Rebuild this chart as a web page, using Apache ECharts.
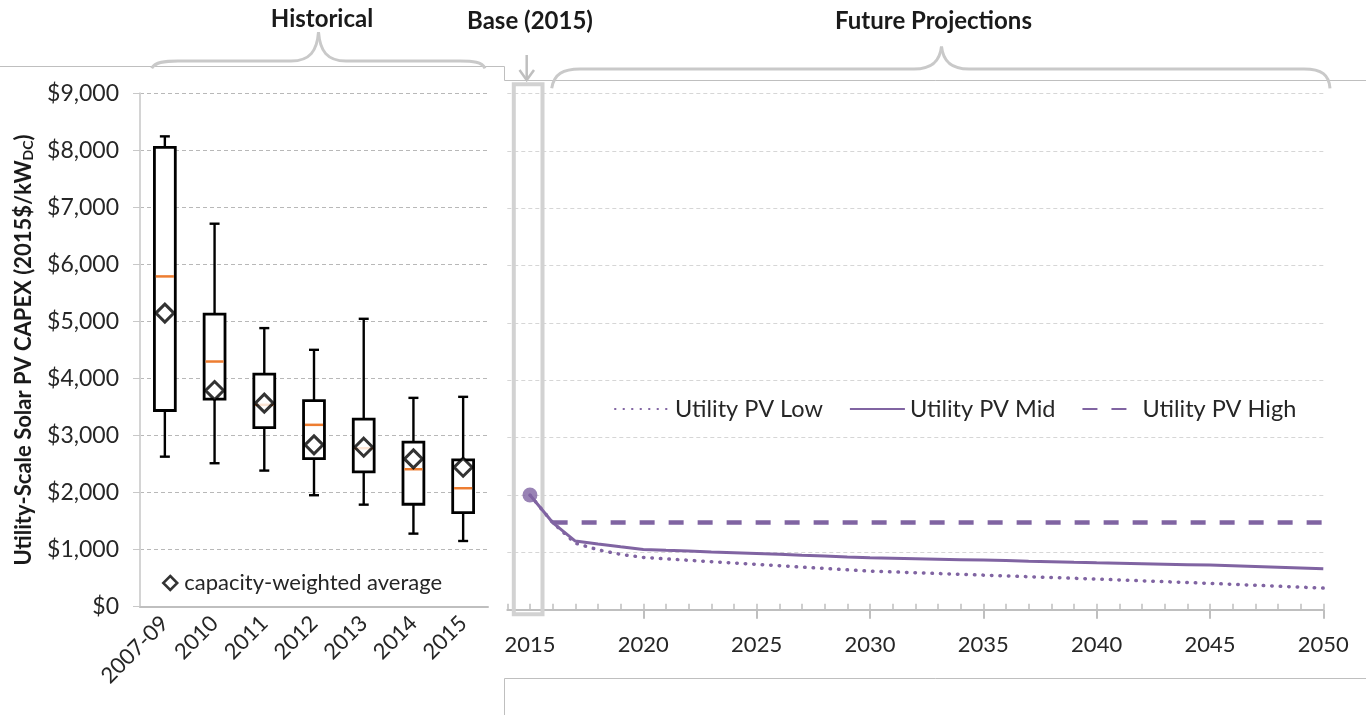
<!DOCTYPE html>
<html><head><meta charset="utf-8">
<script src="https://cdn.jsdelivr.net/npm/echarts@6/dist/echarts.min.js"></script>
<style>html,body{margin:0;padding:0;background:#fff}#c{width:1369px;height:715px}</style>
</head><body><div id="c"></div>
<script>
// ---------- data ----------
const boxCategories = ['2007-09', '2010', '2011', '2012', '2013', '2014', '2015'];
const boxMin    = [2630, 2515, 2386, 1954, 1789, 1281, 1152];
const boxQ1     = [3439, 3638, 3140, 2597, 2363, 1796, 1649];
const boxMedian = [5790, 4298, 3539, 3188, 2778, 2410, 2077];
const boxQ3     = [8053, 5130, 4077, 3614, 3287, 2884, 2573];
const boxMax    = [8245, 6714, 4884, 4503, 5047, 3661, 3679];
const weightedAvg = [5147, 3789, 3568, 2837, 2796, 2591, 2445];

const years = [2015, 2016, 2017, 2018, 2019, 2020, 2021, 2022, 2023, 2024,
               2025, 2026, 2027, 2028, 2029, 2030, 2031, 2032, 2033, 2034,
               2035, 2036, 2037, 2038, 2039, 2040, 2041, 2042, 2043, 2044,
               2045, 2046, 2047, 2048, 2049, 2050];
const pvLow  = [2000, 1520, 1160, 1045, 965, 912, 886, 862, 838, 814,
                790, 767, 743, 720, 696, 673, 659, 645, 631, 617,
                603, 589, 575, 562, 548, 534, 519, 504, 489, 474,
                459, 443, 426, 410, 393, 377];
const pvMid  = [2000, 1520, 1197, 1145, 1097, 1052, 1036, 1022, 1008, 995,
                982, 967, 951, 936, 920, 905, 897, 889, 881, 873,
                865, 856, 846, 837, 827, 818, 810, 802, 794, 786,
                778, 766, 754, 741, 727, 713];
const pvHigh = [null, 1520, 1520, 1520, 1520, 1520, 1520, 1520, 1520, 1520,
                1520, 1520, 1520, 1520, 1520, 1520, 1520, 1520, 1520, 1520,
                1520, 1520, 1520, 1520, 1520, 1520, 1520, 1520, 1520, 1520,
                1520, 1520, 1520, 1520, 1520, 1520];
const seriesNames = ['Utility PV Low', 'Utility PV Mid', 'Utility PV High'];
const avgName = 'capacity-weighted average';
const xLabelYears = [2015, 2020, 2025, 2030, 2035, 2040, 2045, 2050];
const majorTickYears = [2020, 2025, 2030, 2035, 2040, 2045, 2050];
const allTickYears = [2014].concat(years);
const panelTitles = ['Historical', 'Base (2015)', 'Future Projections'];

// ---------- style ----------
const FONT = 'Lato';
const TXT = '#262626';
const PURPLE = '#8064A2';
const GRAY = '#BFBFBF';

function renderBox(params, api) {
  const i = api.value(0);
  const pMin = api.coord([i, api.value(1)]);
  const pQ1 = api.coord([i, api.value(2)]);
  const pMed = api.coord([i, api.value(3)]);
  const pQ3 = api.coord([i, api.value(4)]);
  const pMax = api.coord([i, api.value(5)]);
  const bw = api.size([1, 0])[0] * 0.42;
  const cw = 10;
  const x = pMed[0];
  const ls = { stroke: '#000', lineWidth: 2.4 };
  return {
    type: 'group',
    children: [
      { type: 'line', shape: { x1: x, y1: pMax[1], x2: x, y2: pMin[1] }, style: ls },
      { type: 'line', shape: { x1: x - cw / 2, y1: pMax[1], x2: x + cw / 2, y2: pMax[1] }, style: ls },
      { type: 'line', shape: { x1: x - cw / 2, y1: pMin[1], x2: x + cw / 2, y2: pMin[1] }, style: ls },
      { type: 'rect', shape: { x: x - bw / 2, y: pQ3[1], width: bw, height: pQ1[1] - pQ3[1] },
        style: { fill: '#fff', stroke: '#000', lineWidth: 2.8 } },
      { type: 'line', shape: { x1: x - bw / 2 + 1.4, y1: pMed[1], x2: x + bw / 2 - 1.4, y2: pMed[1] },
        style: { stroke: '#ED7D31', lineWidth: 2.5 } }
    ]
  };
}

function bez(x1, y1, cpx1, cpy1, cpx2, cpy2, x2, y2) {
  return { type: 'bezierCurve', shape: { x1, y1, cpx1, cpy1, cpx2, cpy2, x2, y2 },
    style: { stroke: '#C9C9C9', lineWidth: 3, fill: null }, silent: true };
}
function seg(x1, y1, x2, y2, stroke, w) {
  return { type: 'line', shape: { x1, y1, x2, y2 }, style: { stroke: stroke || '#C9C9C9', lineWidth: w || 3 }, silent: true };
}
function title(text, x, y) {
  return { type: 'text', x, y, style: { text, fontFamily: FONT, fontWeight: 'bold', fontSize: 24,
    fill: '#1a1a1a', align: 'center', verticalAlign: 'middle' }, silent: true };
}

const graphics = [
  // panel frames
  { type: 'polyline', shape: { points: [[0, 66.5], [504.5, 66.5], [504.5, 80.5], [1366, 80.5]] },
    style: { stroke: GRAY, lineWidth: 1, fill: null }, silent: true },
  { type: 'polyline', shape: { points: [[1366, 678.5], [504.5, 678.5], [504.5, 715]] },
    style: { stroke: GRAY, lineWidth: 1, fill: null }, silent: true },
  // Historical brace
  bez(151.7, 68.3, 155, 62, 165, 61, 178, 61),
  seg(178, 61, 291, 61),
  bez(291, 61, 310, 61, 317, 51, 318.5, 32),
  bez(318.5, 32, 320, 51, 327, 61, 346, 61),
  seg(346, 61, 460, 61),
  bez(460, 61, 473, 61, 482, 62, 485, 68.3),
  // Future brace
  bez(551.7, 88.3, 554, 74, 563, 69, 580, 69),
  seg(580, 69, 914, 69),
  bez(914, 69, 933, 69, 940, 60, 941.5, 46.5),
  bez(941.5, 46.5, 943, 60, 950, 69, 969, 69),
  seg(969, 69, 1304, 69),
  bez(1304, 69, 1322, 69, 1329, 75, 1330, 88.3),
  // arrow
  seg(526.7, 55, 526.7, 80, '#BFBFBF', 2.5),
  { type: 'polyline', shape: { points: [[519.5, 70], [526.7, 80], [534, 70]] },
    style: { stroke: '#BFBFBF', lineWidth: 2.5, fill: null }, silent: true },
  // base rectangle
  { type: 'rect', z: 1, shape: { x: 513.8, y: 84.2, width: 28.7, height: 530 },
    style: { stroke: '#D2D2D2', lineWidth: 4, fill: null }, silent: true },
  title(panelTitles[0], 322, 19),
  title(panelTitles[1], 530, 21),
  title(panelTitles[2], 933.5, 21.5)
];

const chart = echarts.init(document.getElementById('c'), null, { renderer: 'canvas' });
chart.setOption({
  animation: false,
  backgroundColor: '#fff',
  textStyle: { fontFamily: FONT, color: TXT },
  grid: [
    { left: 140, top: 93.3, width: 348, height: 513.4 },
    { left: 507.3, top: 93.7, width: 816, height: 516 }
  ],
  legend: [
    { data: [avgName], left: 157, top: 567, icon: 'diamond', itemWidth: 14, itemHeight: 14,
      selectedMode: false, itemStyle: { borderWidth: 2.5 },
      textStyle: { fontFamily: FONT, fontSize: 22, color: TXT, padding: [0, 0, 0, 2] } },
    { data: seriesNames, left: 609, top: 392, itemWidth: 55, itemHeight: 12, itemGap: 26,
      selectedMode: false, itemStyle: { opacity: 0 },
      textStyle: { fontFamily: FONT, fontSize: 23.5, color: TXT, padding: [0, 0, 0, 0] } }
  ],
  xAxis: [
    { type: 'category', gridIndex: 0, data: boxCategories, boundaryGap: true,
      axisLine: { lineStyle: { color: GRAY, width: 2 } },
      axisTick: { length: 9, lineStyle: { color: GRAY, width: 2 } },
      axisLabel: { rotate: 45, fontSize: 22, color: TXT, margin: 13, fontFamily: FONT },
      splitLine: { show: false } },
    { type: 'value', gridIndex: 1, min: 2014, max: 2050, position: 'bottom', offset: 0,
      axisLine: { lineStyle: { color: GRAY, width: 2 } },
      axisTick: { show: true, customValues: majorTickYears, length: 9, lineStyle: { color: GRAY, width: 2 } },
      axisLabel: { customValues: xLabelYears, fontSize: 22, color: TXT, margin: 24, fontFamily: FONT,
        formatter: v => String(v) },
      splitLine: { show: false } },
    { type: 'value', gridIndex: 1, min: 2014, max: 2050, position: 'bottom', offset: 0,
      axisLine: { show: false },
      axisTick: { show: true, inside: true, customValues: allTickYears, length: 6, lineStyle: { color: GRAY, width: 1.5 } },
      axisLabel: { show: false },
      splitLine: { show: false } }
  ],
  yAxis: [
    { type: 'value', gridIndex: 0, min: 0, max: 9000, interval: 1000,
      name: '{a|Utility-Scale Solar PV CAPEX (2015$/kW}{s|DC}{a|)}',
      nameLocation: 'middle', nameGap: 105, nameRotate: 90,
      nameTextStyle: { rich: {
        a: { fontFamily: FONT, fontWeight: 'bold', fontSize: 22, color: '#1a1a1a', lineHeight: 28, verticalAlign: 'bottom' },
        s: { fontFamily: FONT, fontWeight: 'bold', fontSize: 14, color: '#1a1a1a', lineHeight: 28, verticalAlign: 'bottom' }
      } },
      axisLine: { show: true, lineStyle: { color: '#D4D4D4', width: 2 } },
      axisTick: { show: true, length: 7, lineStyle: { color: '#C8C8C8', width: 1 } },
      axisLabel: { fontSize: 23, color: TXT, margin: 21, fontFamily: FONT,
        formatter: v => '$' + v.toLocaleString('en-US') },
      splitLine: { show: true, lineStyle: { color: '#B8B8B8', type: [4, 3], width: 1 } } },
    { type: 'value', gridIndex: 1, min: 0, max: 9000, interval: 1000,
      axisLine: { show: false }, axisTick: { show: false }, axisLabel: { show: false },
      splitLine: { show: true, lineStyle: { color: '#D6D6D6', type: [4, 3], width: 1 } } }
  ],
  series: [
    { type: 'custom', name: 'box', xAxisIndex: 0, yAxisIndex: 0, renderItem: renderBox,
      encode: { x: 0, y: [1, 2, 3, 4, 5] }, z: 3,
      data: boxCategories.map((c, i) => [i, boxMin[i], boxQ1[i], boxMedian[i], boxQ3[i], boxMax[i]]) },
    { type: 'scatter', name: avgName, xAxisIndex: 0, yAxisIndex: 0, z: 5,
      symbol: 'diamond', symbolSize: 18,
      itemStyle: { color: '#fff', borderColor: '#000', borderWidth: 3 },
      data: boxCategories.map((c, i) => [i, weightedAvg[i]]) },
    { type: 'line', name: seriesNames[0], xAxisIndex: 1, yAxisIndex: 1, z: 4,
      symbol: 'none', color: PURPLE,
      lineStyle: { color: PURPLE, width: 3.5, type: [0.5, 8], cap: 'round' },
      data: years.map((y, i) => [y, pvLow[i]]) },
    { type: 'line', name: seriesNames[1], xAxisIndex: 1, yAxisIndex: 1, z: 5,
      symbol: 'none', color: PURPLE,
      lineStyle: { color: PURPLE, width: 3 },
      data: years.map((y, i) => [y, pvMid[i]]) },
    { type: 'line', name: seriesNames[2], xAxisIndex: 1, yAxisIndex: 1, z: 4,
      symbol: 'none', color: PURPLE,
      lineStyle: { color: PURPLE, width: 4.5, type: [15, 14] },
      data: years.map((y, i) => [y, pvHigh[i]]) },
    { type: 'scatter', name: 'base', xAxisIndex: 1, yAxisIndex: 1, z: 6,
      symbol: 'circle', symbolSize: 15, itemStyle: { color: PURPLE },
      data: [[years[0], pvMid[0]]] }
  ],
  graphic: graphics
});
</script></body></html>
